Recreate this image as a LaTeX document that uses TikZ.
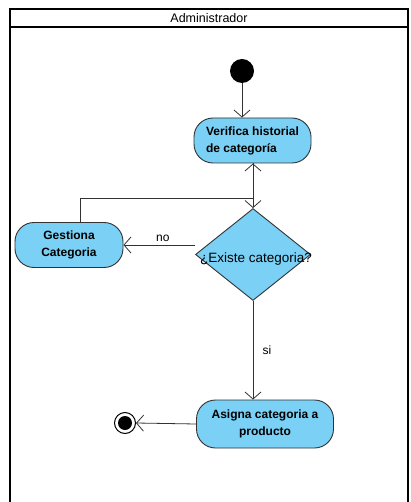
\documentclass[tikz,border=0pt]{standalone}
\usepackage{fontspec}
\setmainfont{Liberation Sans}
\usetikzlibrary{shapes.geometric,arrows.meta}
\definecolor{actfill}{RGB}{122,208,245}
\definecolor{actline}{RGB}{50,50,50}
\tikzset{
  x=1pt, y=-1pt,
  action/.style={draw=actline, fill=actfill, rounded corners=19pt, line width=0.9pt,
    font=\bfseries\fontsize{12}{17}\selectfont, align=center, inner sep=0pt},
  decision/.style={draw=actline, fill=actfill, diamond, line width=0.9pt, inner sep=0pt,
    minimum width=115pt, minimum height=92pt, aspect=1.25},
  flow/.style={draw=actline, line width=0.8pt, -{Straight Barb[length=7pt,width=16pt]}},
  lbl/.style={font=\fontsize{12}{14}\selectfont},
  lane/.style={draw=black, line width=1.8pt}
}
\begin{document}
\begin{tikzpicture}
\useasboundingbox (0,0) rectangle (411,502);
% swimlane
\draw[lane] (10,512) -- (10,9) -- (408,9) -- (408,512);
\draw[lane] (10,27) -- (408,27);
\node[lbl, font=\fontsize{12.5}{14}\selectfont] (lane) at (209,18) {Administrador};

% start
\fill[black] (242,71) circle (12);
\coordinate (start) at (242,83);

% activities
\node[action, minimum width=117pt, minimum height=45pt, align=left] (verifica) at (252.5,140.5)
  {Verifica historial\\de categoría};
\node[decision] (existe) at (253,254.5) {};
\node[lbl, font=\fontsize{13.5}{14}\selectfont] (existetxt) at (256,259) {¿Existe categoria?};
\node[action, minimum width=108pt, minimum height=45pt] (gestiona) at (69,245)
  {Gestiona\\Categoria};
\node[action, minimum width=137pt, minimum height=48pt] (asigna) at (265,424)
  {Asigna categoria a\\producto};

% end
\node[circle, draw=black, line width=1pt, fill=white, minimum size=21pt, inner sep=0pt] (fin) at (125,423) {};
\fill[black] (fin.center) circle (7);

% flows
\draw[flow] (start) -- (verifica.north -| start);
\draw[flow] (verifica.south -| existe.north) -- (existe.north);
\draw[flow] (gestiona.north -| 80,0) -- (80,198) -- (253,198) -- (verifica.south -| existe.north);
\draw[flow] (existe.west |- gestiona.east) -- node[lbl, above, pos=0.45] (no) {no} (gestiona.east);
\draw[flow] (existe.south) -- node[lbl, right=6pt, pos=0.5] (si) {si} (asigna.north -| existe.south);
\draw[flow] (asigna.west) -- (fin.east);
\end{tikzpicture}
\end{document}
